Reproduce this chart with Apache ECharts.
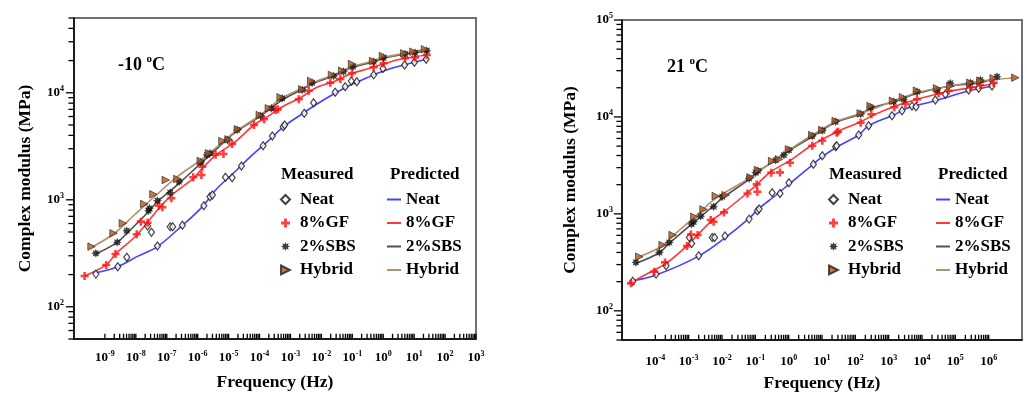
<!DOCTYPE html>
<html><head><meta charset="utf-8">
<script src="https://cdn.jsdelivr.net/npm/echarts@6/dist/echarts.min.js"></script>
<style>html,body{margin:0;padding:0;background:#fff}#c{width:1027px;height:394px}</style>
</head><body><div id="c"></div>
<script>
// ---------------- DATA ----------------
const seriesNames = ['Neat', '8%GF', '2%SBS', 'Hybrid'];
const panelLabels = ['-10 ', '21 '];
const leftXLabelExps = [-9, -8, -7, -6, -5, -4, -3, -2, -1, 0, 1, 2, 3];
const rightXLabelExps = [-4, -3, -2, -1, 0, 1, 2, 3, 4, 5, 6];
const leftYLabelExps = [2, 3, 4];
const rightYLabelExps = [2, 3, 4, 5];

// Left panel (-10 C) measured
const lNeatF = [5.1e-10, 2.6e-9, 5.1e-9, 2.4e-8, 3.2e-8, 5.0e-8, 1.29e-7, 1.55e-7, 3.2e-7, 1.58e-6, 2.5e-6, 3.0e-6, 7.9e-6, 1.3e-5, 2.6e-5, 1.3e-4, 2.6e-4, 5.8e-4, 6.5e-4, 2.8e-3, 5.6e-3, 2.8e-2, 5.9e-2, 9.3e-2, 0.14, 0.49, 0.98, 4.9, 10.2, 24.5];
const lNeatM = [202, 237, 290, 569, 497, 370, 561, 561, 577, 881, 1070, 1109, 1622, 1610, 2070, 3200, 3950, 4820, 5000, 6430, 8080, 10100, 11400, 12900, 12700, 14700, 16900, 18200, 19300, 20600];
const lGFF = [2.2e-10, 1.1e-9, 2.2e-9, 1.07e-8, 1.45e-8, 2.4e-8, 5.6e-8, 7.2e-8, 1.41e-7, 7.2e-7, 1.32e-6, 1.41e-6, 3.8e-6, 6.8e-6, 1.3e-5, 6.6e-5, 1.4e-4, 3.3e-4, 3.9e-4, 1.86e-3, 3.9e-3, 1.95e-2, 4.1e-2, 9.8e-2, 0.49, 1.02, 5.1, 10.7, 25.7];
const lGFM = [194, 246, 311, 476, 625, 611, 881, 851, 1033, 1622, 1706, 2040, 2640, 2680, 3320, 5000, 5650, 6900, 7000, 8690, 10470, 12400, 13450, 15200, 17300, 18850, 21000, 21400, 22560];
const lSBSF = [5.1e-10, 2.5e-9, 5.1e-9, 2.57e-8, 2.75e-8, 5.0e-8, 1.29e-7, 2.5e-7, 1.26e-6, 2.0e-6, 2.5e-6, 9.1e-6, 1.9e-5, 1.07e-4, 2.4e-4, 5.4e-4, 2.4e-3, 5.0e-3, 2.5e-2, 5.2e-2, 0.105, 0.49, 1.02, 5.1, 10.7, 25.7];
const lSBSM = [316, 400, 514, 791, 832, 981, 1165, 1476, 2240, 2620, 2720, 3620, 4490, 6110, 7160, 8880, 10620, 12400, 14360, 15740, 17540, 19540, 21280, 23060, 23700, 24740];
const lHybF = [3.7e-10, 1.9e-9, 3.8e-9, 1.86e-8, 3.7e-8, 9.3e-8, 2.2e-7, 1.26e-6, 2.3e-6, 6.3e-6, 1.0e-5, 2.0e-5, 1.02e-4, 2.0e-4, 4.8e-4, 2.4e-3, 4.7e-3, 2.2e-2, 4.7e-2, 9.8e-2, 0.47, 0.98, 4.8, 9.5, 22.4];
const lHybM = [365, 486, 603, 914, 1125, 1530, 1565, 2305, 2720, 3540, 3670, 4560, 6200, 7160, 9080, 10770, 12900, 14700, 16100, 18580, 19820, 22080, 23380, 24210, 25480];

// Left panel predicted
const lpNeatF = [5.1e-10, 2.6e-9, 1.12e-8, 5.0e-8, 3.2e-7, 1.26e-6, 4.3e-6, 1.48e-5, 5.1e-5, 1.8e-4, 6.0e-4, 2.1e-3, 7.2e-3, 2.5e-2, 8.7e-2, 0.30, 1.02, 3.5, 24.5];
const lpNeatM = [208, 237, 296, 365, 577, 832, 1280, 1790, 2530, 3490, 4820, 6200, 7850, 9740, 11830, 13840, 15990, 17800, 20600];
const lpGFF = [2.2e-10, 1.1e-9, 2.2e-9, 1.07e-8, 5.6e-8, 1.41e-7, 7.2e-7, 1.41e-6, 4.3e-6, 1.48e-5, 6.6e-5, 1.8e-4, 6.0e-4, 2.1e-3, 7.2e-3, 2.5e-2, 8.7e-2, 0.30, 1.02, 3.5, 25.7];
const lpGFM = [194, 246, 311, 469, 832, 1100, 1588, 1969, 2680, 3400, 5000, 5980, 7530, 9000, 11250, 12700, 14990, 16690, 18580, 20600, 22560];
const lpSBSF = [5.1e-10, 2.5e-9, 5.1e-9, 2.57e-8, 5.0e-8, 2.5e-7, 1.26e-6, 4.3e-6, 1.48e-5, 1.07e-4, 5.4e-4, 2.4e-3, 7.2e-3, 2.5e-2, 0.105, 0.49, 1.02, 5.1, 25.7];
const lpSBSM = [311, 400, 486, 774, 960, 1426, 2193, 3027, 4178, 6067, 8570, 10770, 12700, 14360, 17300, 19540, 21000, 23060, 24740];
const lpHybF = [3.7e-10, 1.9e-9, 8.9e-9, 5.0e-8, 2.2e-7, 1.26e-6, 4.3e-6, 1.48e-5, 1.07e-4, 4.8e-4, 2.4e-3, 7.2e-3, 2.5e-2, 9.8e-2, 0.47, 1.02, 4.8, 22.4];
const lpHybM = [360, 479, 721, 1133, 1644, 2355, 3133, 4236, 6200, 8750, 11010, 12900, 14700, 17540, 19820, 21400, 23380, 25480];

// Right panel (21 C) measured
const rNeatF = [2.1e-5, 1.05e-4, 2.1e-4, 1.05e-3, 1.23e-3, 2.0e-3, 5.1e-3, 6.0e-3, 1.23e-2, 6.5e-2, 0.115, 0.13, 0.32, 0.55, 1.02, 5.5, 10.2, 25.7, 27.5, 126, 251, 1259, 2512, 5012, 6607, 25119, 50119, 251189, 501187, 1.26e6];
const rNeatM = [202, 239, 292, 572, 496, 370, 572, 572, 590, 883, 1077, 1121, 1652, 1626, 2094, 3243, 3980, 4930, 5040, 6510, 8120, 10300, 11590, 12950, 12760, 14940, 17100, 18950, 19730, 20830];
const rGFF = [1.86e-5, 9.3e-5, 1.95e-4, 8.9e-4, 1.17e-3, 1.86e-3, 4.6e-3, 5.6e-3, 1.15e-2, 5.8e-2, 0.11, 0.115, 0.30, 0.55, 1.1, 5.1, 10.2, 27.5, 30.2, 145, 302, 1479, 3162, 7079, 31623, 63096, 281838, 562341, 1.41e6];
const rGFM = [192, 253, 316, 465, 614, 605, 863, 830, 1036, 1626, 2015, 1690, 2655, 2680, 3370, 5040, 5680, 6870, 7040, 8710, 10640, 12560, 13590, 15200, 17500, 18660, 20200, 21330, 22540];
const rSBSF = [2.6e-5, 1.32e-4, 2.6e-4, 1.23e-3, 1.41e-3, 2.3e-3, 5.6e-3, 1.02e-2, 6.5e-2, 0.102, 0.12, 0.41, 0.72, 1.02, 5.1, 10.2, 25.7, 145, 288, 1413, 2818, 7079, 28184, 70795, 281838, 562341, 1.78e6];
const rSBSM = [316, 400, 507, 785, 830, 948, 1184, 1502, 2323, 2655, 2786, 3590, 4045, 4550, 6350, 7210, 8930, 10720, 12560, 14360, 15200, 18200, 18950, 22230, 22540, 24040, 26000];
const rHybF = [3.3e-5, 1.66e-4, 3.3e-4, 1.48e-3, 2.8e-3, 6.5e-3, 1.29e-2, 7.2e-2, 0.12, 0.32, 0.51, 1.02, 5.1, 10.2, 25.7, 145, 288, 1349, 2692, 7079, 28184, 70795, 281838, 562341, 1.41e6, 6.31e6];
const rHybM = [361, 477, 605, 933, 1112, 1527, 1560, 2380, 2830, 3505, 3650, 4630, 6510, 7330, 9080, 10890, 12950, 14700, 15920, 18660, 19730, 20830, 22540, 23640, 25020, 25400];

// Right panel predicted
const rpNeatF = [2.1e-5, 1.05e-4, 2.0e-3, 1.29e-2, 6.5e-2, 0.13, 0.36, 1.15, 5.1, 10.2, 28.8, 126, 251, 1413, 3548, 25119, 251189, 1.41e6];
const rpNeatM = [204, 234, 367, 572, 898, 1140, 1502, 2094, 3190, 3890, 4930, 6510, 8120, 10470, 12270, 14700, 18500, 20830];
const rpGFF = [1.66e-5, 8.3e-5, 2.1e-4, 9.3e-4, 5.1e-3, 1.15e-2, 5.8e-2, 0.115, 0.29, 1.15, 5.1, 28.8, 145, 355, 1413, 7079, 56234, 354813, 1.78e6];
const rpGFM = [192, 259, 308, 477, 863, 1052, 1652, 2030, 2720, 3590, 5130, 7040, 8930, 10470, 12760, 15200, 18200, 20200, 22230];
const rpSBSF = [2.6e-5, 1.32e-4, 2.6e-4, 1.23e-3, 2.3e-3, 1.02e-2, 6.5e-2, 0.12, 0.41, 1.02, 5.1, 25.7, 145, 288, 1413, 7079, 70795, 562341, 1.78e6];
const rpSBSM = [308, 397, 496, 785, 933, 1445, 2270, 2720, 3590, 4480, 6250, 8790, 10720, 12270, 14360, 17500, 20830, 22540, 25640];
const rpHybF = [3.3e-5, 1.66e-4, 3.3e-4, 1.48e-3, 6.5e-3, 7.2e-2, 0.32, 1.02, 5.1, 25.7, 145, 1413, 7079, 70795, 562341, 6.31e6];
const rpHybM = [361, 469, 590, 920, 1445, 2380, 3450, 4550, 6510, 8930, 10890, 14590, 17780, 20830, 23460, 25400];

// axis ranges
const leftX = [1e-10, 1e3], rightX = [1e-5, 1e7];
const leftY = [50, 50000], rightY = [50, 100000];

// ---------------- STYLE ----------------
const FONT = '"Liberation Serif","Times New Roman",serif';
const lineColors = ['#4343ff', '#ff3838', '#505050', '#b0906f'];
const PLUS = 'path://M3.4,0H6.6V3.4H10V6.6H6.6V10H3.4V6.6H0V3.4H3.4Z';
const STAR = 'path://M10,5L7.6,6.1L8.54,8.54L6.1,7.6L5,10L3.9,7.6L1.46,8.54L2.4,6.1L0,5L2.4,3.9L1.46,1.46L3.9,2.4L5,0L6.1,2.4L8.54,1.46L7.6,3.9Z';
const TRI = 'path://M0,0L10,5L0,10Z';
const TICKV = 'path://M0,0H1V10H0Z';
const TICKH = 'path://M0,0H10V1H0Z';
const markerDefs = [
  {symbol: 'diamond', size: [6, 8], itemStyle: {color: '#ffffff', borderColor: '#111', borderWidth: 1.2}},
  {symbol: PLUS, size: 8, itemStyle: {color: '#ff1010'}},
  {symbol: STAR, size: 9, itemStyle: {color: '#111111'}},
  {symbol: TRI, size: 7.5, itemStyle: {color: '#b8561f', borderColor: '#222', borderWidth: 0.8}}
];

function pairs(f, m) { return f.map((v, i) => [v, m[i]]); }
function scat(k, f, m, gi) {
  const d = markerDefs[k];
  return {type: 'scatter', name: seriesNames[k], xAxisIndex: gi, yAxisIndex: gi, symbol: d.symbol,
    symbolSize: d.size, itemStyle: d.itemStyle, data: pairs(f, m), z: 4, silent: true, animation: false};
}
function line(k, f, m, gi) {
  return {type: 'line', name: 'Predicted ' + seriesNames[k], xAxisIndex: gi, yAxisIndex: gi, smooth: 0.35,
    symbol: 'none', showSymbol: false, lineStyle: {color: lineColors[k], width: 1.6}, itemStyle: {color: lineColors[k]},
    data: pairs(f, m), z: 3, silent: true, animation: false};
}

function powLabel(exps) {
  return function (v) {
    const e = Math.round(Math.log10(v));
    return exps.indexOf(e) >= 0 ? '{b|10}{s|' + e + '}' : '';
  };
}
const labelRich = {
  b: {fontSize: 13, fontWeight: 'bold', fontFamily: FONT, color: '#000', lineHeight: 16},
  s: {fontSize: 8, fontWeight: 'bold', fontFamily: FONT, color: '#000', verticalAlign: 'top', lineHeight: 9}
};
// log-style tick values (major 10^k and/or minor m*10^k)
function logTickVals(firstExp, lastExp, lo, hi, withMajor, withMinor) {
  const out = [];
  for (let k = firstExp; k <= lastExp; k++) {
    const p = Math.pow(10, k);
    if (withMajor && p >= lo * 0.999 && p <= hi * 1.001) out.push(p);
    if (withMinor) {
      for (let m = 2; m <= 9; m++) {
        const v = Number((m * p).toPrecision(10));
        if (v >= lo * 0.999 && v <= hi * 1.001) out.push(v);
      }
    }
  }
  return out;
}
// tick marks drawn through the axes' own scales
function xTickSeries(gi, exps, yRange) {
  const first = exps[0], last = exps[exps.length - 1];
  const vals = logTickVals(first, last, Math.pow(10, first), Math.pow(10, last), true, true);
  return {type: 'scatter', name: '_xt' + gi, xAxisIndex: gi, yAxisIndex: gi, symbol: TICKV,
    symbolSize: [1.3, 4.5], symbolOffset: [0, -3], itemStyle: {color: '#000', opacity: 1}, clip: false, silent: true,
    data: vals.map(v => [v, yRange[0]]), z: 10, zlevel: 0, animation: false};
}
function yTickSeries(gi, xRange, yRange, major) {
  const vals = logTickVals(1, 5, yRange[0], yRange[1], major, !major);
  const len = major ? 7.5 : 5;
  return {type: 'scatter', name: '_yt' + gi + (major ? 'M' : 'm'), xAxisIndex: gi, yAxisIndex: gi, symbol: TICKH,
    symbolSize: [len, 1.3], symbolOffset: [-len / 2 - 0.6, 0], itemStyle: {color: '#000', opacity: 1}, clip: false, silent: true,
    data: vals.map(v => [xRange[0], v]), z: 10, zlevel: 0, animation: false};
}

const nameStyle = {fontFamily: FONT, fontWeight: 'bold', fontSize: 17.5, color: '#000'};
function xAxisMain(gi, range, exps, margin) {
  return {type: 'log', gridIndex: gi, min: range[0], max: range[1], position: 'bottom',
    name: 'Frequency (Hz)', nameLocation: 'middle', nameGap: 34, nameTextStyle: nameStyle,
    axisLine: {show: true, onZero: false, lineStyle: {color: '#000', width: 1.5}},
    axisTick: {show: false}, minorTick: {show: false}, splitLine: {show: false},
    axisLabel: {show: true, margin, customValues: exps.map(e => Math.pow(10, e)), formatter: powLabel(exps), rich: labelRich}};
}
function yAxisMain(gi, range, exps, gap, margin) {
  return {type: 'log', gridIndex: gi, min: range[0], max: range[1], position: 'left',
    name: 'Complex modulus (MPa)', nameLocation: 'middle', nameGap: gap, nameTextStyle: nameStyle,
    axisLine: {show: true, onZero: false, lineStyle: {color: '#000', width: 1.5}},
    axisTick: {show: false}, minorTick: {show: false}, splitLine: {show: false},
    axisLabel: {show: true, margin, customValues: exps.map(e => Math.pow(10, e)), formatter: powLabel(exps), rich: labelRich}};
}

const titleRich = {
  t: {fontSize: 18, fontWeight: 'bold', fontFamily: FONT, color: '#000', lineHeight: 22},
  s: {fontSize: 11, fontWeight: 'bold', fontFamily: FONT, color: '#000', verticalAlign: 'top'}
};
const legTxt = {fontFamily: FONT, fontWeight: 'bold', fontSize: 17, color: '#000'};
function headTitle(text, left) {
  return {text, left, top: 166, padding: 0, textStyle: legTxt};
}
function legendM(left) {
  return {orient: 'vertical', left, top: 191, padding: 0, itemGap: 6.5, itemWidth: 9, itemHeight: 9,
    selectedMode: false, textStyle: Object.assign({padding: [0, 0, 0, 5]}, legTxt), data: seriesNames.slice()};
}
function legendP(left) {
  return {orient: 'vertical', left, top: 191, padding: 0, itemGap: 6.5, itemWidth: 14, itemHeight: 2,
    selectedMode: false, textStyle: legTxt,
    data: seriesNames.map(n => ({name: 'Predicted ' + n, icon: 'rect'})),
    formatter: n => n.replace('Predicted ', '')};
}

const series = [
  line(0, lpNeatF, lpNeatM, 0), line(1, lpGFF, lpGFM, 0), line(2, lpSBSF, lpSBSM, 0), line(3, lpHybF, lpHybM, 0),
  scat(0, lNeatF, lNeatM, 0), scat(1, lGFF, lGFM, 0), scat(2, lSBSF, lSBSM, 0), scat(3, lHybF, lHybM, 0),
  line(0, rpNeatF, rpNeatM, 1), line(1, rpGFF, rpGFM, 1), line(2, rpSBSF, rpSBSM, 1), line(3, rpHybF, rpHybM, 1),
  scat(0, rNeatF, rNeatM, 1), scat(1, rGFF, rGFM, 1), scat(2, rSBSF, rSBSM, 1), scat(3, rHybF, rHybM, 1),
  xTickSeries(0, leftXLabelExps, leftY), xTickSeries(1, rightXLabelExps, rightY),
  yTickSeries(0, leftX, leftY, true), yTickSeries(0, leftX, leftY, false),
  yTickSeries(1, rightX, rightY, true), yTickSeries(1, rightX, rightY, false)
];

const option = {
  backgroundColor: '#ffffff',
  animation: false,
  grid: [
    {left: 74, right: 551, top: 18, bottom: 55, show: true, borderColor: '#707070', borderWidth: 2, backgroundColor: 'transparent', containLabel: false, outerBoundsMode: 'none'},
    {left: 622, right: 5, top: 20, bottom: 54, show: true, borderColor: '#707070', borderWidth: 2, backgroundColor: 'transparent', containLabel: false, outerBoundsMode: 'none'}
  ],
  xAxis: [xAxisMain(0, leftX, leftXLabelExps, 11), xAxisMain(1, rightX, rightXLabelExps, 14)],
  yAxis: [yAxisMain(0, leftY, leftYLabelExps, 40, 10), yAxisMain(1, rightY, rightYLabelExps, 43, 9)],
  title: [
    {text: '{t|' + panelLabels[0] + '}{s|o}{t|C}', left: 118, top: 54, padding: 0, textStyle: {rich: titleRich}},
    {text: '{t|' + panelLabels[1] + '}{s|o}{t|C}', left: 667, top: 56, padding: 0, textStyle: {rich: titleRich}},
    headTitle('Measured', 281), headTitle('Predicted', 390),
    headTitle('Measured', 829), headTitle('Predicted', 938)
  ],
  legend: [legendM(280), legendP(387), legendM(828), legendP(936)],
  series
};
const chart = echarts.init(document.getElementById('c'), null, {renderer: 'canvas'});
chart.setOption(option);
</script></body></html>
